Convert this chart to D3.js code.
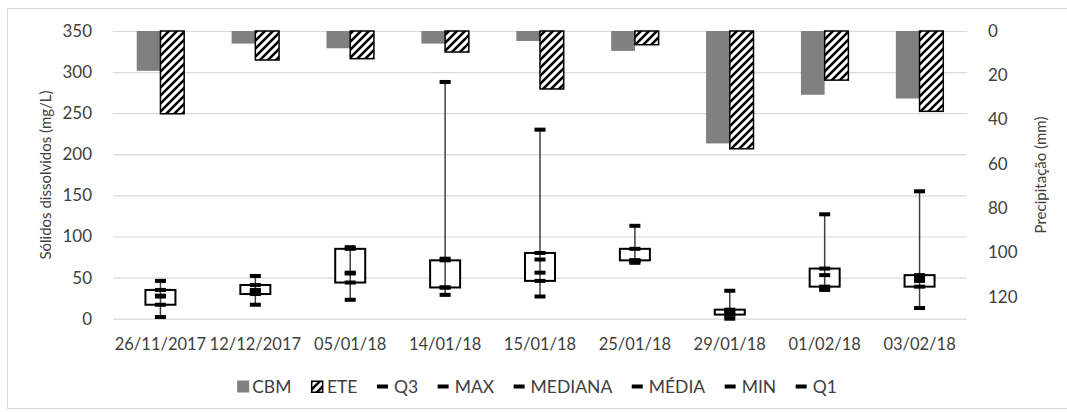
<!DOCTYPE html>
<html>
<head>
<meta charset="utf-8">
<script src="https://cdn.jsdelivr.net/npm/d3@7"></script>
<style>
  body { margin: 0; background: #fff; }
  text { font-family: Lato, "Open Sans", sans-serif; fill: #404040; }
</style>
</head>
<body>
<svg id="chart" width="1067" height="412"></svg>
<script>
// Sampling dates
const dates = ["26/11/2017", "12/12/2017", "05/01/18", "14/01/18", "15/01/18",
               "25/01/18", "29/01/18", "01/02/18", "03/02/18"];

// Precipitation (mm), secondary axis, bars hanging from the top
const cbm = [18, 5.7, 7.8, 5.7, 4.5, 9, 50.8, 28.8, 30.5];
const ete = [37.4, 13.1, 12.5, 9.5, 26.2, 6.2, 53.2, 22.2, 36.3];

// Dissolved solids statistics (mg/L)
const q3      = [35, 41, 85, 71, 80, 85, 11, 61, 53];
const maxV    = [46, 52, 87, 288, 230, 113, 34, 127, 155];
const mediana = [28, 35, 56, 38, 56, 71, 5, 38, 46];
const media   = [27, 33, 55, 73, 72, 70, 8, 53, 50];
const minV    = [2, 17, 23, 29, 27, 68, 0, 35, 13];
const q1      = [17, 30, 44, 38, 46, 71, 5, 39, 39];

const leftTicks  = [0, 50, 100, 150, 200, 250, 300, 350];
const rightTicks = [0, 20, 40, 60, 80, 100, 120];

const svg = d3.select("#chart");
const plot = { left: 113, right: 967, top: 31, bottom: 318.7 };

// outer frame
svg.append("rect")
  .attr("x", 7.5).attr("y", 8.5).attr("width", 1075).attr("height", 400)
  .attr("fill", "none").attr("stroke", "#d9d9d9").attr("stroke-width", 1);

const x = d3.scaleBand().domain(dates).range([plot.left, plot.right]).padding(0);
const yL = d3.scaleLinear().domain([0, 350]).range([plot.bottom, plot.top]);
const yR = d3.scaleLinear().domain([0, 130]).range([plot.top, plot.bottom]);
const bw = x.bandwidth();
const sub = d3.scaleBand().domain(["CBM", "ETE"]).range([bw / 4, bw * 3 / 4]).padding(0);

// hatch pattern for ETE
const defs = svg.append("defs");
const pat = defs.append("pattern").attr("id", "hatch")
  .attr("patternUnits", "userSpaceOnUse").attr("width", 8).attr("height", 8);
pat.append("rect").attr("width", 8).attr("height", 8).attr("fill", "#fff");
pat.append("path").attr("d", "M-2,2 L2,-2 M0,8 L8,0 M6,10 L10,6")
  .attr("stroke", "#000").attr("stroke-width", 2.6);

// gridlines
svg.append("g")
  .attr("transform", `translate(${plot.left},0)`)
  .call(d3.axisLeft(yL).tickValues(leftTicks).tickSize(-(plot.right - plot.left)).tickFormat(""))
  .call(g => g.select(".domain").remove())
  .call(g => g.selectAll("line").attr("stroke", "#d9d9d9").attr("stroke-width", 1.2));

// left axis labels
svg.append("g")
  .attr("transform", `translate(${plot.left},0)`)
  .call(d3.axisLeft(yL).tickValues(leftTicks).tickSize(0).tickPadding(21))
  .call(g => g.select(".domain").remove())
  .call(g => g.selectAll("text").attr("font-size", 17).attr("fill", "#404040")
                .style("font-family", "Lato, sans-serif"));

// right axis labels
svg.append("g")
  .attr("transform", `translate(${plot.right},0)`)
  .call(d3.axisRight(yR).tickValues(rightTicks).tickSize(0).tickPadding(21))
  .call(g => g.select(".domain").remove())
  .call(g => g.selectAll("text").attr("font-size", 17).attr("fill", "#404040")
                .style("font-family", "Lato, sans-serif"));

// category labels
svg.append("g")
  .attr("transform", `translate(0,${plot.bottom})`)
  .call(d3.axisBottom(x).tickSize(0).tickPadding(20))
  .call(g => g.select(".domain").remove())
  .call(g => g.selectAll("text").attr("font-size", 16.5).attr("fill", "#404040")
                .style("font-family", "Lato, sans-serif"));

// axis titles
svg.append("text")
  .attr("transform", "translate(45,175) rotate(-90)")
  .attr("text-anchor", "middle").attr("dominant-baseline", "central")
  .attr("font-size", 15).text("Sólidos dissolvidos (mg/L)");
svg.append("text")
  .attr("transform", "translate(1040,175) rotate(-90)")
  .attr("text-anchor", "middle").attr("dominant-baseline", "central")
  .attr("font-size", 15).text("Precipitação (mm)");

// precipitation bars
const barData = dates.map((d, i) => ({ date: d, CBM: cbm[i], ETE: ete[i] }));
const bars = svg.append("g");
bars.selectAll("rect.cbm").data(barData).join("rect")
  .attr("class", "cbm")
  .attr("x", d => x(d.date) + sub("CBM"))
  .attr("y", yR(0))
  .attr("width", sub.bandwidth())
  .attr("height", d => yR(d.CBM) - yR(0))
  .attr("fill", "#808080");
bars.selectAll("rect.ete").data(barData).join("rect")
  .attr("class", "ete")
  .attr("x", d => x(d.date) + sub("ETE"))
  .attr("y", yR(0))
  .attr("width", sub.bandwidth())
  .attr("height", d => yR(d.ETE) - yR(0))
  .attr("fill", "url(#hatch)")
  .attr("stroke", "#000").attr("stroke-width", 1.5);

// box plots
const stats = dates.map((d, i) => ({
  date: d, q3: q3[i], max: maxV[i], mediana: mediana[i], media: media[i], min: minV[i], q1: q1[i]
}));
const boxW = 30;
const boxes = svg.append("g");
boxes.selectAll("rect.box").data(stats).join("rect")
  .attr("class", "box")
  .attr("x", d => x(d.date) + bw / 2 - boxW / 2)
  .attr("y", d => yL(d.q3))
  .attr("width", boxW)
  .attr("height", d => yL(d.q1) - yL(d.q3))
  .attr("fill", "#fff").attr("stroke", "#000").attr("stroke-width", 2);
boxes.selectAll("line.whisker").data(stats).join("line")
  .attr("class", "whisker")
  .attr("x1", d => x(d.date) + bw / 2).attr("x2", d => x(d.date) + bw / 2)
  .attr("y1", d => yL(d.min)).attr("y2", d => yL(d.max))
  .attr("stroke", "#404040").attr("stroke-width", 1.5);

const keys = ["q3", "max", "mediana", "media", "min", "q1"];
const markers = [];
stats.forEach(s => keys.forEach(k => markers.push({ date: s.date, v: s[k] })));
boxes.selectAll("rect.mark").data(markers).join("rect")
  .attr("class", "mark")
  .attr("x", d => x(d.date) + bw / 2 - 5.5)
  .attr("y", d => yL(d.v) - 2)
  .attr("width", 11).attr("height", 4)
  .attr("fill", "#000");

// legend
const legendItems = [
  { label: "CBM", type: "solid" },
  { label: "ETE", type: "hatch" },
  { label: "Q3", type: "dash" },
  { label: "MAX", type: "dash" },
  { label: "MEDIANA", type: "dash" },
  { label: "MÉDIA", type: "dash" },
  { label: "MIN", type: "dash" },
  { label: "Q1", type: "dash" }
];
const leg = svg.append("g");
const legY = 386.5;
let cx = 0;
legendItems.forEach((it, i) => {
  const g = leg.append("g");
  if (it.type === "solid") {
    g.append("rect").attr("x", cx).attr("y", legY - 6).attr("width", 12).attr("height", 12).attr("fill", "#808080");
    cx += 12 + 3;
  } else if (it.type === "hatch") {
    g.append("rect").attr("x", cx + 0.75).attr("y", legY - 5.25).attr("width", 11).attr("height", 11)
      .attr("fill", "url(#hatch)").attr("stroke", "#000").attr("stroke-width", 1.5);
    cx += 12 + 4;
  } else {
    g.append("rect").attr("x", cx).attr("y", legY - 2).attr("width", 11).attr("height", 4).attr("fill", "#000");
    cx += 11 + 6;
  }
  const t = g.append("text").attr("x", cx).attr("y", legY).attr("dy", "0.36em")
    .attr("font-size", 17.5).text(it.label);
  cx += t.node().getComputedTextLength() + 19.5;
});
const legW = cx - 19.5;
leg.attr("transform", `translate(${537 - legW / 2},0)`);
</script>
</body>
</html>
